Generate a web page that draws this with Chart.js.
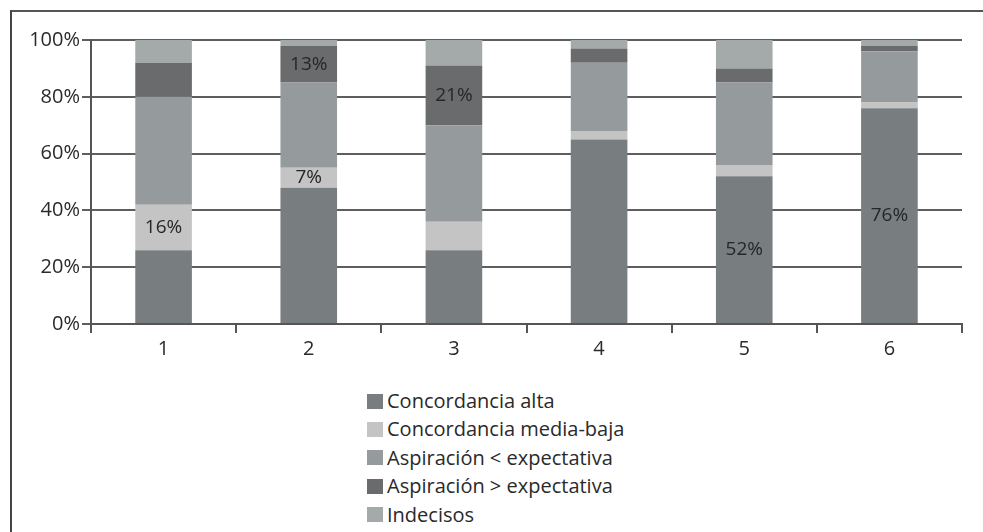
<!DOCTYPE html>
<html lang="es">
<head>
  <meta charset="UTF-8" />
  <title>Concordancia</title>
  <script src="https://cdn.jsdelivr.net/npm/chart.js"></script>
  <style>
    body {
      margin: 0;
      background: #fff;
      font-family: 'Open Sans', sans-serif;
      width: 983px;
      height: 532px;
      position: relative;
      overflow: hidden;
    }
    .frame {
      position: absolute;
      left: 10px;
      top: 10px;
      right: 0;
      bottom: 0;
      border-top: 2px solid #555;
      border-left: 2px solid #444;
    }
    #wrap {
      position: absolute;
      left: 0;
      top: 0;
      width: 983px;
      height: 375px;
    }
    #legend {
      position: absolute;
      left: 367px;
      top: 387px;
      margin: 0;
      padding: 0;
      list-style: none;
      font-size: 20px;
      color: #2a2a2a;
    }
    #legend li {
      height: 28.4px;
      line-height: 28.4px;
      display: flex;
      align-items: center;
    }
    #legend span {
      display: inline-block;
      width: 16px;
      height: 15px;
      margin-right: 4px;
    }
  </style>
</head>
<body>
  <div class="frame"></div>
  <div id="wrap"><canvas id="chart"></canvas></div>
  <ul id="legend"></ul>

  <script>
    const categories = ['1', '2', '3', '4', '5', '6'];
    const seriesNames = ['Concordancia alta', 'Concordancia media-baja', 'Aspiración < expectativa', 'Aspiración > expectativa', 'Indecisos'];
    const colors = ['#787d80', '#c4c4c4', '#959b9d', '#6a6b6d', '#a4a9a9'];

    const alta       = [26, 48, 26, 65, 52, 76];
    const mediaBaja  = [16, 7, 10, 3, 4, 2];
    const aspMenor   = [38, 30, 34, 24, 29, 18];
    const aspMayor   = [12, 13, 21, 5, 5, 2];
    const indecisos  = [8, 2, 9, 3, 10, 2];

    // which segments carry a % label in the picture
    const shownLabels = [
      [null, null, null, null, '52%', '76%'],
      ['16%', '7%', null, null, null, null],
      [null, null, null, null, null, null],
      [null, '13%', '21%', null, null, null],
      [null, null, null, null, null, null]
    ];

    const yTicks = [0, 20, 40, 60, 80, 100];

    const values = [alta, mediaBaja, aspMenor, aspMayor, indecisos];

    const segmentLabels = {
      id: 'segmentLabels',
      afterDatasetsDraw(chart) {
        const ctx = chart.ctx;
        ctx.save();
        ctx.font = '19px "Open Sans", sans-serif';
        ctx.fillStyle = '#262626';
        ctx.textAlign = 'center';
        ctx.textBaseline = 'middle';
        chart.data.datasets.forEach((ds, i) => {
          chart.getDatasetMeta(i).data.forEach((bar, j) => {
            const txt = shownLabels[i][j];
            if (!txt) return;
            const mid = (bar.y + bar.base) / 2;
            ctx.fillText(txt, bar.x, mid);
          });
        });
        ctx.restore();
      }
    };

    const chart = new Chart(document.getElementById('chart').getContext('2d'), {
      type: 'bar',
      data: {
        labels: categories,
        datasets: seriesNames.map((name, i) => ({
          label: name,
          data: values[i],
          backgroundColor: colors[i],
          borderWidth: 0,
          categoryPercentage: 1,
          barPercentage: 0.39
        }))
      },
      options: {
        responsive: true,
        maintainAspectRatio: false,
        animation: false,
        layout: { padding: { left: 30, right: 21, top: 40, bottom: 11 } },
        plugins: {
          legend: { display: false },
          tooltip: { enabled: false }
        },
        scales: {
          x: {
            stacked: true,
            afterFit: s => { s.height = 40; },
            border: { color: '#555', width: 2 },
            grid: { drawOnChartArea: false, drawTicks: true, tickLength: 9, color: '#555', lineWidth: 2 },
            ticks: { color: '#2a2a2a', font: { family: 'Open Sans', size: 20 }, padding: 4 }
          },
          y: {
            stacked: true,
            min: 0,
            max: 100,
            afterFit: s => { s.width = 61; },
            afterBuildTicks: s => { s.ticks = yTicks.map(v => ({ value: v })); },
            border: { color: '#555', width: 2 },
            grid: { color: '#5e5e5e', lineWidth: 2, tickLength: 9 },
            ticks: {
              color: '#2a2a2a',
              font: { family: 'Open Sans', size: 20 },
              padding: 2,
              callback: v => v + '%'
            }
          }
        }
      },
      plugins: [segmentLabels]
    });

    document.getElementById('legend').innerHTML = chart.data.datasets
      .map(ds => `<li><span style="background:${ds.backgroundColor}"></span>${ds.label}</li>`)
      .join('');
  </script>
</body>
</html>
